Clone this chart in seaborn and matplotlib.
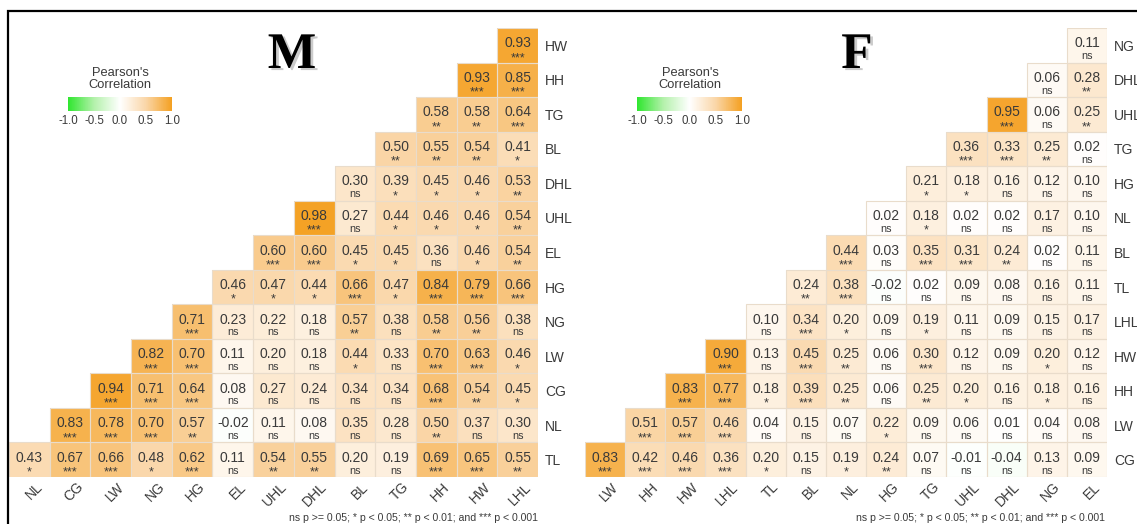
import numpy as np
import pandas as pd
import matplotlib
matplotlib.use("Agg")
import matplotlib.pyplot as plt
import seaborn as sns
from matplotlib.colors import LinearSegmentedColormap, Normalize
from matplotlib.cm import ScalarMappable
from matplotlib.patches import Rectangle
from matplotlib.transforms import ScaledTranslation
import matplotlib.patheffects as pe

# ---------------- Male (M) ----------------
m_cols = ["NL", "CG", "LW", "NG", "HG", "EL", "UHL", "DHL", "BL", "TG", "HH", "HW", "LHL"]
m_rows = ["TL", "NL", "CG", "LW", "NG", "HG", "EL", "UHL", "DHL", "BL", "TG", "HH", "HW"]  # bottom -> top
m_r = [
    [0.43, 0.67, 0.66, 0.48, 0.62, 0.11, 0.54, 0.55, 0.20, 0.19, 0.69, 0.65, 0.55],
    [0.83, 0.78, 0.70, 0.57, -0.02, 0.11, 0.08, 0.35, 0.28, 0.50, 0.37, 0.30],
    [0.94, 0.71, 0.64, 0.08, 0.27, 0.24, 0.34, 0.34, 0.68, 0.54, 0.45],
    [0.82, 0.70, 0.11, 0.20, 0.18, 0.44, 0.33, 0.70, 0.63, 0.46],
    [0.71, 0.23, 0.22, 0.18, 0.57, 0.38, 0.58, 0.56, 0.38],
    [0.46, 0.47, 0.44, 0.66, 0.47, 0.84, 0.79, 0.66],
    [0.60, 0.60, 0.45, 0.45, 0.36, 0.46, 0.54],
    [0.98, 0.27, 0.44, 0.46, 0.46, 0.54],
    [0.30, 0.39, 0.45, 0.46, 0.53],
    [0.50, 0.55, 0.54, 0.41],
    [0.58, 0.58, 0.64],
    [0.93, 0.85],
    [0.93],
]
m_sig = [
    ["*", "***", "***", "*", "***", "ns", "**", "**", "ns", "ns", "***", "***", "**"],
    ["***", "***", "***", "**", "ns", "ns", "ns", "ns", "ns", "**", "ns", "ns"],
    ["***", "***", "***", "ns", "ns", "ns", "ns", "ns", "***", "**", "*"],
    ["***", "***", "ns", "ns", "ns", "*", "ns", "***", "***", "*"],
    ["***", "ns", "ns", "ns", "**", "ns", "**", "**", "ns"],
    ["*", "*", "*", "***", "*", "***", "***", "***"],
    ["***", "***", "*", "*", "ns", "*", "**"],
    ["***", "ns", "*", "*", "*", "**"],
    ["ns", "*", "*", "*", "**"],
    ["**", "**", "**", "*"],
    ["**", "**", "***"],
    ["***", "***"],
    ["***"],
]

# ---------------- Female (F) ----------------
f_cols = ["LW", "HH", "HW", "LHL", "TL", "BL", "NL", "HG", "TG", "UHL", "DHL", "NG", "EL"]
f_rows = ["CG", "LW", "HH", "HW", "LHL", "TL", "BL", "NL", "HG", "TG", "UHL", "DHL", "NG"]  # bottom -> top
f_r = [
    [0.83, 0.42, 0.46, 0.36, 0.20, 0.15, 0.19, 0.24, 0.07, -0.01, -0.04, 0.13, 0.09],
    [0.51, 0.57, 0.46, 0.04, 0.15, 0.07, 0.22, 0.09, 0.06, 0.01, 0.04, 0.08],
    [0.83, 0.77, 0.18, 0.39, 0.25, 0.06, 0.25, 0.20, 0.16, 0.18, 0.16],
    [0.90, 0.13, 0.45, 0.25, 0.06, 0.30, 0.12, 0.09, 0.20, 0.12],
    [0.10, 0.34, 0.20, 0.09, 0.19, 0.11, 0.09, 0.15, 0.17],
    [0.24, 0.38, -0.02, 0.02, 0.09, 0.08, 0.16, 0.11],
    [0.44, 0.03, 0.35, 0.31, 0.24, 0.02, 0.11],
    [0.02, 0.18, 0.02, 0.02, 0.17, 0.10],
    [0.21, 0.18, 0.16, 0.12, 0.10],
    [0.36, 0.33, 0.25, 0.02],
    [0.95, 0.06, 0.25],
    [0.06, 0.28],
    [0.11],
]
f_sig = [
    ["***", "***", "***", "***", "*", "ns", "*", "**", "ns", "ns", "ns", "ns", "ns"],
    ["***", "***", "***", "ns", "ns", "ns", "*", "ns", "ns", "ns", "ns", "ns"],
    ["***", "***", "*", "***", "**", "ns", "**", "*", "ns", "*", "ns"],
    ["***", "ns", "***", "**", "ns", "***", "ns", "ns", "*", "ns"],
    ["ns", "***", "*", "ns", "*", "ns", "ns", "ns", "ns"],
    ["**", "***", "ns", "ns", "ns", "ns", "ns", "ns"],
    ["***", "ns", "***", "***", "**", "ns", "ns"],
    ["ns", "*", "ns", "ns", "ns", "ns"],
    ["*", "*", "ns", "ns", "ns"],
    ["***", "***", "**", "ns"],
    ["***", "ns", "**"],
    ["ns", "**"],
    ["ns"],
]

footnote = "ns p >= 0.05; * p < 0.05; ** p < 0.01; and *** p < 0.001"

sns.set_theme(style="white")
plt.rcParams["font.family"] = ["Liberation Sans", "DejaVu Sans"]

cmap = LinearSegmentedColormap.from_list(
    "pearson",
    [(0.0, "#2fe62f"), (0.25, "#b4f1ab"), (0.5, "#ffffff"),
     (0.75, "#fad6a8"), (1.0, "#f4a021")],
)

W, H = 1137, 524
fig = plt.figure(figsize=(W / 100, H / 100), dpi=100)
fig.patch.set_facecolor("white")

TXT = "#3a3a3a"
GRID = "#e9dccb"


def fx(px):
    return px / W


def fy(py):
    return 1 - py / H


def panel(cols, rows, rvals, sig, left, right, top, bottom):
    n = len(cols)
    mat = np.full((n, n), np.nan)
    lab = [["" for _ in range(n)] for _ in range(n)]
    for i, (vals, stars) in enumerate(zip(rvals, sig)):
        for k, (v, s) in enumerate(zip(vals, stars)):
            mat[i, i + k] = v
            lab[i][i + k] = s
    # heatmap rows run top -> bottom
    df = pd.DataFrame(mat[::-1], index=rows[::-1], columns=cols)
    labs = lab[::-1]
    ax = fig.add_axes([fx(left), fy(bottom), fx(right - left), (bottom - top) / H])
    sns.heatmap(df, mask=df.isna(), cmap=cmap, vmin=-1, vmax=1, cbar=False,
                linewidths=0, ax=ax)
    for r in range(n):
        for c in range(n):
            v = df.iat[r, c]
            if np.isnan(v):
                continue
            ax.add_patch(Rectangle((c, r), 1, 1, fill=False, edgecolor=GRID,
                                   linewidth=0.8, zorder=2))
            ax.text(c + 0.5, r + 0.56, f"{v:.2f}", ha="center", va="baseline",
                    fontsize=10, color=TXT, zorder=3)
            s = labs[r][c]
            if s == "ns":
                ax.text(c + 0.5, r + 0.90, s, ha="center", va="baseline",
                        fontsize=7.8, color=TXT, zorder=3)
            else:
                ax.text(c + 0.5, r + 0.96, s, ha="center", va="baseline",
                        fontsize=9, color=TXT, zorder=3)
    ax.yaxis.tick_right()
    ax.set_yticks(np.arange(n) + 0.5)
    ax.set_yticklabels(df.index, rotation=0, fontsize=10, color=TXT)
    ax.set_xticks(np.arange(n) + 0.5)
    ax.set_xticklabels(cols, rotation=45, ha="right", va="top",
                       rotation_mode="anchor", fontsize=10, color=TXT)
    ax.tick_params(axis="both", length=0)
    ax.tick_params(axis="y", pad=5)
    ax.tick_params(axis="x", pad=2)
    shift = ScaledTranslation(6 / 100, 0, fig.dpi_scale_trans)
    for lbl in ax.get_xticklabels():
        lbl.set_transform(lbl.get_transform() + shift)
    ax.set_xlabel("")
    ax.set_ylabel("")
    return ax


def legend_bar(x0, x1, cxt):
    cax = fig.add_axes([fx(x0), fy(111), fx(x1 - x0), 14 / H])
    cb = fig.colorbar(ScalarMappable(norm=Normalize(-1, 1), cmap=cmap),
                      cax=cax, orientation="horizontal")
    cb.outline.set_visible(False)
    cb.set_ticks([-1, -0.5, 0, 0.5, 1])
    cb.set_ticklabels(["-1.0", "-0.5", "0.0", "0.5", "1.0"])
    cax.tick_params(length=0, pad=3, labelsize=8.3, labelcolor=TXT)
    fig.text(fx(cxt), fy(79), "Pearson's\nCorrelation", ha="center", va="center",
             fontsize=9.3, color=TXT, linespacing=0.95)


shadow = [pe.SimplePatchShadow(offset=(2, -1.5), shadow_rgbFace="#999999", alpha=0.5),
          pe.Normal()]

# M panel
panel(m_cols, m_rows, m_r, m_sig, left=9, right=538, top=28, bottom=477)
legend_bar(68, 172, 120)
fig.text(fx(292), fy(56), "M", ha="center", va="center", fontsize=37,
         fontweight="bold", family="Liberation Serif", color="black",
         path_effects=shadow)
fig.text(fx(538), fy(518), footnote, ha="right", va="center", fontsize=7.6, color=TXT)

# F panel
panel(f_cols, f_rows, f_r, f_sig, left=585, right=1107, top=28, bottom=477)
legend_bar(637, 742, 690)
fig.text(fx(857), fy(56), "F", ha="center", va="center", fontsize=37,
         fontweight="bold", family="Liberation Serif", color="black",
         path_effects=shadow)
fig.text(fx(1105), fy(518), footnote, ha="right", va="center", fontsize=7.6, color=TXT)

# frame around the figure (open past the right and bottom edges)
fig.patches.append(Rectangle((fx(8), -0.5), 2.0, 0.5 + fy(11),
                             transform=fig.transFigure, fill=False,
                             edgecolor="black", linewidth=1.6, zorder=10))

fig.savefig("out.png", dpi=100, facecolor="white")
